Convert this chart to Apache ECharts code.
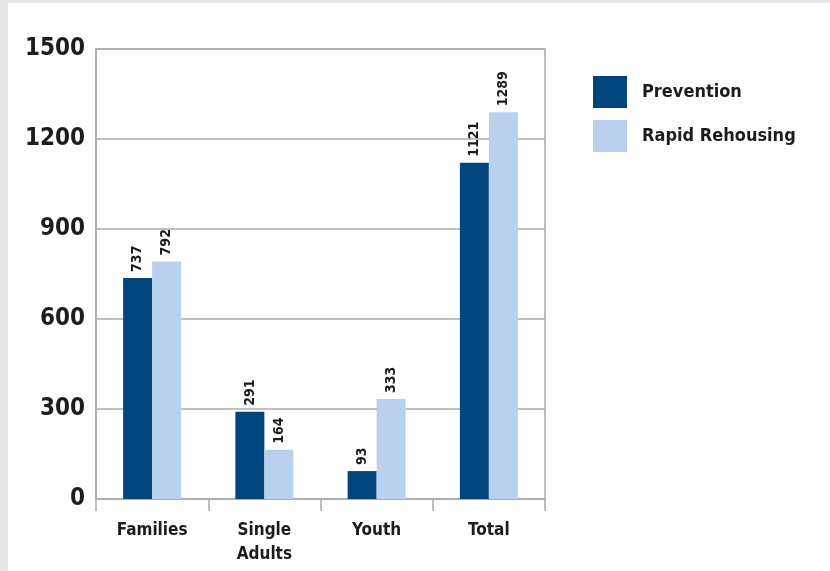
<!DOCTYPE html>
<html>
<head>
<meta charset="utf-8">
<script src="https://cdn.jsdelivr.net/npm/echarts@6/dist/echarts.min.js"></script>
<style>
  html, body { margin: 0; padding: 0; background: #e5e6e8; width: 830px; height: 571px; overflow: hidden; }
  #chart { position: absolute; left: 8px; top: 3px; width: 822px; height: 568px; background: #ffffff; }
</style>
</head>
<body>
<div id="chart"></div>
<script>
// Programme groups along the x axis
const categories = ['Families', 'Single\nAdults', 'Youth', 'Total'];
// Households served per programme type
const prevention = [737, 291, 93, 1121];
const rapidRehousing = [792, 164, 333, 1289];
// Value axis ticks
const yTicks = [0, 300, 600, 900, 1200, 1500];

const FONT = "'Liberation Sans Narrow', 'DejaVu Sans Condensed', 'Arial Narrow', sans-serif";
const INK = '#1c1c1c';
const GRID = '#ababab';

const chart = echarts.init(document.getElementById('chart'), null, { renderer: 'canvas' });

const valueLabel = {
  show: true,
  position: 'top',
  rotate: 90,
  align: 'left',
  verticalAlign: 'middle',
  distance: 6,
  fontFamily: FONT,
  fontWeight: 'bold',
  fontSize: 14,
  color: INK
};

chart.setOption({
  animation: false,
  backgroundColor: '#ffffff',
  textStyle: { fontFamily: FONT },
  grid: {
    left: 88, right: 285, top: 46, bottom: 72,
    containLabel: false,
    outerBoundsMode: 'none',
    show: true, borderColor: GRID, borderWidth: 1.5, backgroundColor: 'transparent'
  },
  legend: {
    orient: 'vertical',
    left: 580, top: 68,
    itemWidth: 34, itemHeight: 32, itemGap: 12,
    icon: 'rect',
    textStyle: { fontFamily: FONT, fontWeight: 'bold', fontSize: 18, color: INK, padding: [0, 0, 0, 10] },
    data: ['Prevention', 'Rapid Rehousing']
  },
  xAxis: {
    type: 'category',
    data: categories,
    axisLine: { show: true, lineStyle: { color: GRID, width: 1.5 } },
    axisTick: { show: true, length: 12, lineStyle: { color: GRID, width: 1.5 } },
    axisLabel: {
      fontFamily: FONT, fontWeight: 'bold', fontSize: 17, color: INK,
      margin: 20, lineHeight: 24
    }
  },
  yAxis: {
    type: 'value',
    min: yTicks[0], max: yTicks[yTicks.length - 1], interval: yTicks[1] - yTicks[0],
    axisLine: { show: true, lineStyle: { color: GRID, width: 1.5 } },
    axisTick: { show: false },
    splitLine: { show: true, lineStyle: { color: GRID, width: 1.5 } },
    axisLabel: {
      fontFamily: FONT, fontWeight: 'bold', fontSize: 24, color: INK, margin: 11,
      formatter: (v) => String(v)
    }
  },
  series: [
    {
      name: 'Prevention', type: 'bar', data: prevention,
      barWidth: 29, barGap: '0%',
      itemStyle: { color: '#00457c' },
      label: valueLabel
    },
    {
      name: 'Rapid Rehousing', type: 'bar', data: rapidRehousing,
      barWidth: 29, barGap: '0%',
      itemStyle: { color: '#bad1ed' },
      label: valueLabel
    }
  ]
});
</script>
</body>
</html>
